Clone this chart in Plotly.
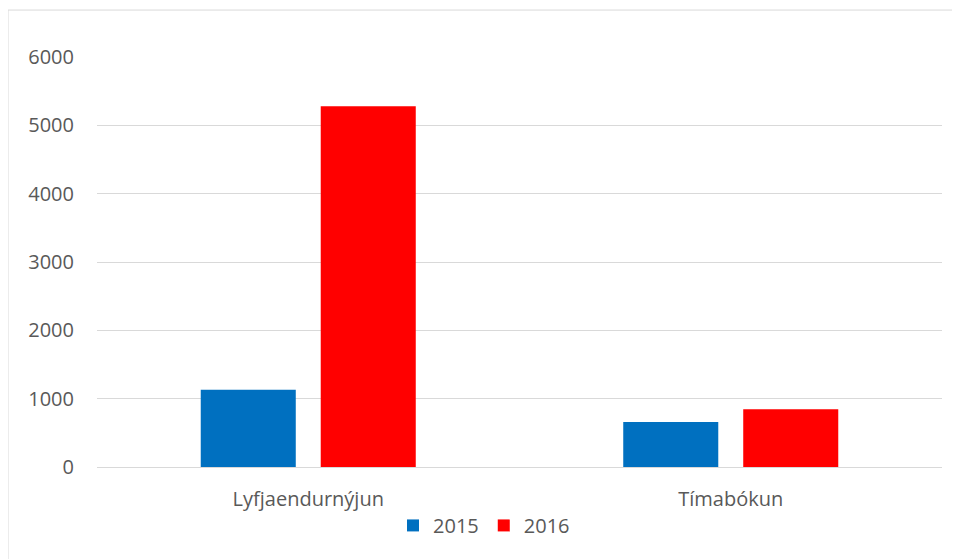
import plotly.graph_objects as go

categories = ["Lyfjaendurnýjun", "Tímabókun"]
series_names = ["2015", "2016"]
values_2015 = [1130, 660]
values_2016 = [5280, 845]
colors = ["#0070C0", "#FF0000"]
y_ticks = [0, 1000, 2000, 3000, 4000, 5000, 6000]

fig = go.Figure()
for name, vals, col in zip(series_names, [values_2015, values_2016], colors):
    fig.add_trace(go.Bar(name=name, x=categories, y=vals, marker_color=col,
                         marker_line_width=0))

font_fam = "Open Sans, Calibri, sans-serif"
# page body has an 8px margin, so the figure is sized/margined to compensate
fig.update_layout(
    width=952, height=551,
    margin=dict(l=89, r=18, t=49, b=91.5),
    paper_bgcolor="white", plot_bgcolor="white",
    barmode="group", bargap=0.432, bargroupgap=0.208,
    font=dict(family=font_fam, size=20, color="#595959"),
    showlegend=True,
    legend=dict(orientation="h", x=0.458, xanchor="center", y=-0.1425, yanchor="middle",
                font=dict(size=20, color="#595959"), itemwidth=30, traceorder="normal"),
    yaxis=dict(range=[0, 6000], tickvals=y_ticks, showgrid=True, gridcolor="#D9D9D9",
               gridwidth=1, zeroline=False, showline=False, ticks="",
               ticklabelstandoff=22, tickfont=dict(size=20, color="#595959"),
               fixedrange=True),
    xaxis=dict(showline=True, linecolor="#D9D9D9", linewidth=1, ticks="",
               ticklabelstandoff=14, tickfont=dict(size=20, color="#595959")),
)

# chart area border
fig.add_shape(type="rect", xref="paper", yref="paper",
              x0=(8 - 97) / 845, x1=(957 - 97) / 845,
              y0=(467.5 - 570) / 410.5, y1=(467.5 - 10) / 410.5,
              line=dict(color="#D9D9D9", width=1), fillcolor="rgba(0,0,0,0)", layer="below")

fig.write_html("out.html")
